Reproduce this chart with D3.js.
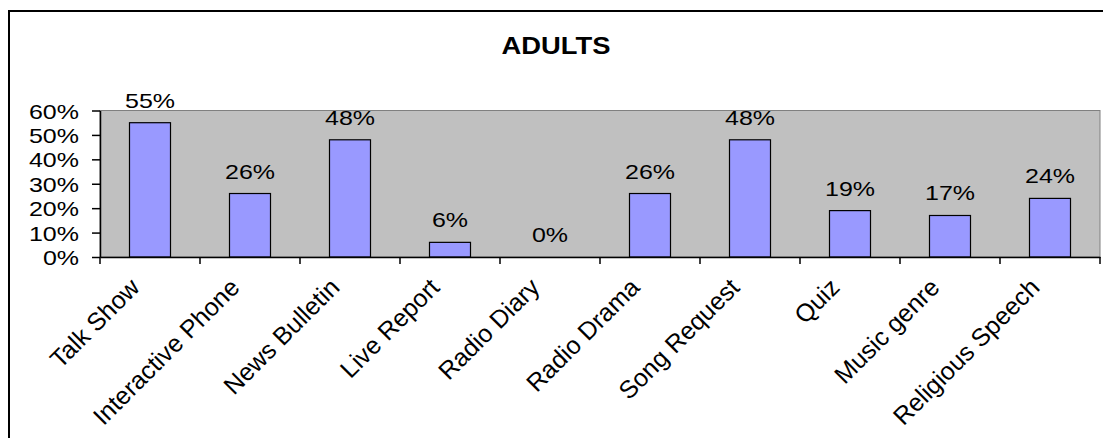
<!DOCTYPE html>
<html>
<head>
<meta charset="utf-8">
<script src="https://cdn.jsdelivr.net/npm/d3@7"></script>
<style>
  html, body { margin: 0; padding: 0; background: #fff; }
  svg { display: block; font-family: "Liberation Sans", Arial, sans-serif; }
</style>
</head>
<body>
<svg id="chart" width="1103" height="438"></svg>
<script>
const categories = ["Talk Show", "Interactive Phone", "News Bulletin", "Live Report", "Radio Diary",
                    "Radio Drama", "Song Request", "Quiz", "Music genre", "Religious Speech"];
const values = [55, 26, 48, 6, 0, 26, 48, 19, 17, 24];
const yTicks = [0, 10, 20, 30, 40, 50, 60];
const title = "ADULTS";

const svg = d3.select("#chart");
const W = 1103, H = 438;
const plot = { left: 100, right: 1100, top: 110.5, bottom: 257 };
const SX = 1.19; // horizontal stretch of the text in the reference

// outer frame (extends beyond the bottom/right of the picture)
svg.append("rect")
  .attr("x", 9).attr("y", 11)
  .attr("width", W + 10).attr("height", H + 10)
  .attr("fill", "#fff").attr("stroke", "#000").attr("stroke-width", 2);

svg.append("text")
  .attr("transform", `translate(556,54) scale(${SX},1)`)
  .attr("text-anchor", "middle")
  .attr("font-weight", "bold").attr("font-size", 23)
  .text(title);

const x = d3.scaleBand().domain(categories).range([plot.left, plot.right]).padding(0);
const y = d3.scaleLinear().domain([0, 60]).range([plot.bottom, plot.top]);

// plot area
svg.append("rect")
  .attr("x", plot.left).attr("y", plot.top)
  .attr("width", plot.right - plot.left).attr("height", plot.bottom - plot.top)
  .attr("fill", "#c0c0c0").attr("stroke", "#808080").attr("stroke-width", 1);

// bars
const bw = x.bandwidth() * 0.41;
svg.append("g").selectAll("rect").data(categories).join("rect")
  .attr("x", (d) => x(d) + x.bandwidth() / 2 - bw / 2)
  .attr("y", (d, i) => y(values[i]))
  .attr("width", bw)
  .attr("height", (d, i) => y(0) - y(values[i]))
  .attr("fill", "#9999ff").attr("stroke", "#000").attr("stroke-width", 1.2);

// value labels
svg.append("g").selectAll("text").data(categories).join("text")
  .attr("transform", (d, i) => `translate(${x(d) + x.bandwidth() / 2},${y(values[i]) - 15}) scale(${SX},1)`)
  .attr("text-anchor", "middle")
  .attr("font-size", 21)
  .text((d, i) => values[i] + "%");

// y axis
const yAxis = svg.append("g")
  .attr("transform", `translate(${plot.left},0)`)
  .call(d3.axisLeft(y).tickValues(yTicks).tickFormat((d) => d + "%").tickSize(8).tickSizeOuter(0));
yAxis.select(".domain").attr("stroke", "#000").attr("stroke-width", 1.5);
yAxis.selectAll(".tick line").attr("stroke", "#000").attr("stroke-width", 1.5);
yAxis.selectAll(".tick text")
  .attr("font-size", 21).attr("font-family", "Liberation Sans, Arial, sans-serif")
  .attr("fill", "#000").attr("x", 0).attr("dy", "0.36em")
  .attr("transform", `translate(-21,0) scale(${SX},1)`);

// x axis
const xAxis = svg.append("g")
  .attr("transform", `translate(0,${plot.bottom})`)
  .call(d3.axisBottom(x).tickSize(0).tickSizeOuter(0).tickFormat(""));
xAxis.select(".domain").attr("stroke", "#000").attr("stroke-width", 1.5);
const boundaries = categories.map((c) => x(c)).concat([x(categories[categories.length - 1]) + x.bandwidth()]);
xAxis.selectAll(".bound").data(boundaries).join("line")
  .attr("class", "bound")
  .attr("x1", (d) => d).attr("x2", (d) => d)
  .attr("y1", 0).attr("y2", 7)
  .attr("stroke", "#000").attr("stroke-width", 1.5);

// category labels
svg.append("g").selectAll("text").data(categories).join("text")
  .attr("transform", (d) => `translate(${x(d) + x.bandwidth() / 2 - 9},${plot.bottom + 32}) rotate(-45)`)
  .attr("text-anchor", "end")
  .attr("font-size", 25)
  .text((d) => d);
</script>
</body>
</html>
